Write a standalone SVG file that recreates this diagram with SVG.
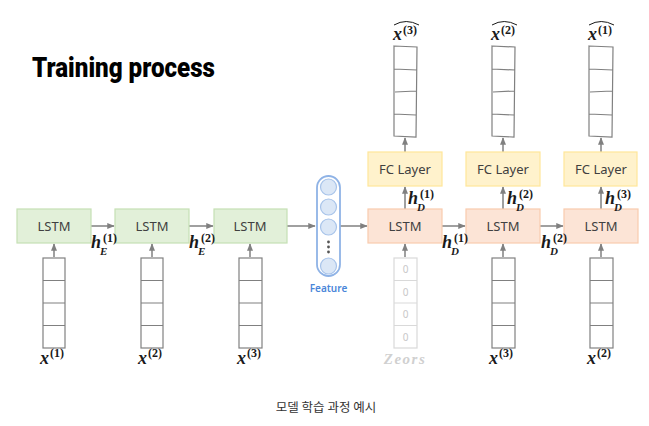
<svg xmlns="http://www.w3.org/2000/svg" width="649" height="426" viewBox="0 0 649 426">
<defs>
<marker id="ah" viewBox="0 0 10 10" refX="9" refY="5" markerWidth="5" markerHeight="5" orient="auto"><path d="M0,1 L10,5 L0,9 z" fill="#808080"/></marker>
<style>
.enc{fill:#e2f0d9;stroke:#c5e0b4;stroke-width:1.2}
.dec{fill:#fce4d6;stroke:#f8cbad;stroke-width:1.2}
.fc{fill:#fff2cc;stroke:#ffe699;stroke-width:1.2}
.lbl{font-family:"Noto Sans","Liberation Sans",sans-serif;font-size:13px;fill:#404040;text-anchor:middle}
.vec{fill:#fff;stroke:#808080;stroke-width:1.2}
.zv{fill:#fff;stroke:#d9d9d9;stroke-width:1.2}
.z{font-family:"Noto Sans",sans-serif;font-size:10px;fill:#c8c8c8;text-anchor:middle}
.m{font-family:"Liberation Serif",serif;font-style:italic;font-weight:bold;font-size:18px;fill:#1a1a1a}
.sub{font-family:"Liberation Serif",serif;font-style:italic;font-weight:bold;font-size:11px;fill:#1a1a1a}
.sup{font-family:"Liberation Serif",serif;font-weight:bold;font-size:12px;fill:#1a1a1a}
.ar{stroke:#808080;stroke-width:1.5;fill:none;marker-end:url(#ah)}
.circ{fill:#dbe7f6;stroke:#a8c4ea;stroke-width:1.2}
.hat{fill:none;stroke:#1a1a1a;stroke-width:1}
</style>
</defs>
<rect width="649" height="426" fill="#fff"/>
<text x="32" y="77" font-family="Roboto,'Liberation Sans',sans-serif" font-weight="900" font-size="27" fill="#000" textLength="183" lengthAdjust="spacingAndGlyphs">Training process</text>

<g id="connectors">
<path class="ar" d="M91,226 H114"/>
<path class="ar" d="M189,226 H213"/>
<path class="ar" d="M287,226 H315"/>
<path class="ar" d="M340,226 H367"/>
<path class="ar" d="M442,226 H465"/>
<path class="ar" d="M540,226 H563"/>
<path class="ar" d="M54,257 V244"/>
<path class="ar" d="M152,257 V244"/>
<path class="ar" d="M250,257 V244"/>
<path class="ar" d="M405,257 V244"/>
<path class="ar" d="M503,257 V244"/>
<path class="ar" d="M601,257 V244"/>
<path class="ar" d="M405,209 V187"/>
<path class="ar" d="M503,209 V187"/>
<path class="ar" d="M601,209 V187"/>
<path class="ar" d="M405,152 V138"/>
<path class="ar" d="M503,152 V138"/>
<path class="ar" d="M601,152 V138"/>
</g>

<g id="enc1"><rect class="enc" x="17" y="209" width="74" height="34"/><text class="lbl" x="54" y="231">LSTM</text></g>
<g id="enc2"><rect class="enc" x="115" y="209" width="74" height="34"/><text class="lbl" x="152" y="231">LSTM</text></g>
<g id="enc3"><rect class="enc" x="214" y="209" width="73" height="34"/><text class="lbl" x="250" y="231">LSTM</text></g>

<g id="dec1"><rect class="dec" x="368" y="209" width="74" height="34"/><text class="lbl" x="405" y="231">LSTM</text></g>
<g id="dec2"><rect class="dec" x="466" y="209" width="74" height="34"/><text class="lbl" x="503" y="231">LSTM</text></g>
<g id="dec3"><rect class="dec" x="564" y="209" width="74" height="34"/><text class="lbl" x="601" y="231">LSTM</text></g>

<g id="fc1"><rect class="fc" x="368" y="152" width="74" height="34"/><text class="lbl" x="405" y="174">FC Layer</text></g>
<g id="fc2"><rect class="fc" x="466" y="152" width="74" height="34"/><text class="lbl" x="503" y="174">FC Layer</text></g>
<g id="fc3"><rect class="fc" x="564" y="152" width="73" height="34"/><text class="lbl" x="601" y="174">FC Layer</text></g>

<g id="feature">
<rect x="317" y="176" width="23" height="100" rx="11.5" fill="#fff" stroke="#8fb3e6" stroke-width="1.8"/>
<circle class="circ" cx="328.5" cy="187" r="8"/>
<circle class="circ" cx="328.5" cy="207" r="8"/>
<circle class="circ" cx="328.5" cy="227" r="8"/>
<circle cx="328.5" cy="242" r="1.4" fill="#555"/><circle cx="328.5" cy="247" r="1.4" fill="#555"/><circle cx="328.5" cy="252" r="1.4" fill="#555"/>
<circle class="circ" cx="328.5" cy="266" r="8"/>
<text x="328.5" y="292" font-family="'Noto Sans','Liberation Sans',sans-serif" font-size="10" font-weight="600" fill="#4a86d9" text-anchor="middle">Feature</text>
</g>

<g id="in1"><rect class="vec" x="43" y="258" width="22" height="90"/><path d="M43,280.5 H65 M43,303 H65 M43,325.5 H65" stroke="#808080" stroke-width="1.2"/>
<text class="m" x="40" y="364">x</text><text class="sup" x="50" y="357">(1)</text></g>
<g id="in2"><rect class="vec" x="141" y="258" width="22" height="90"/><path d="M141,280.5 H163 M141,303 H163 M141,325.5 H163" stroke="#808080" stroke-width="1.2"/>
<text class="m" x="138" y="364">x</text><text class="sup" x="148" y="357">(2)</text></g>
<g id="in3"><rect class="vec" x="239" y="258" width="23" height="90"/><path d="M239,280.5 H262 M239,303 H262 M239,325.5 H262" stroke="#808080" stroke-width="1.2"/>
<text class="m" x="237" y="364">x</text><text class="sup" x="247" y="357">(3)</text></g>

<g id="zeros"><rect class="zv" x="394" y="258" width="23" height="90"/><path d="M394,280.5 H417 M394,303 H417 M394,325.5 H417" stroke="#d9d9d9" stroke-width="1.2"/>
<text class="z" x="405.5" y="273">0</text><text class="z" x="405.5" y="296">0</text><text class="z" x="405.5" y="318">0</text><text class="z" x="405.5" y="341">0</text>
<text x="405" y="364" font-family="'Liberation Serif',serif" font-style="italic" font-weight="bold" font-size="15" fill="#d0d0d0" text-anchor="middle" letter-spacing="1.5">Zeors</text></g>

<g id="din2"><rect class="vec" x="492" y="258" width="23" height="90"/><path d="M492,280.5 H515 M492,303 H515 M492,325.5 H515" stroke="#808080" stroke-width="1.2"/>
<text class="m" x="489" y="364">x</text><text class="sup" x="499" y="357">(3)</text></g>
<g id="din3"><rect class="vec" x="590" y="258" width="23" height="90"/><path d="M590,280.5 H613 M590,303 H613 M590,325.5 H613" stroke="#808080" stroke-width="1.2"/>
<text class="m" x="587" y="364">x</text><text class="sup" x="597" y="357">(2)</text></g>

<g id="out1"><path d="M394,46 L417,47 L416,137 L394,136 Z M394,69 L417,70 M395,92 L416,91 M394,114 L416,115" fill="#fff" stroke="#808080" stroke-width="1.2"/>
<text class="m" x="393" y="40">x</text><text class="sup" x="403" y="34">(3)</text><path class="hat" d="M394,25 Q406,18 419,25"/></g>
<g id="out2"><path d="M492,46 L515,47 L514,137 L492,136 Z M492,69 L515,70 M493,92 L514,91 M492,114 L514,115" fill="#fff" stroke="#808080" stroke-width="1.2"/>
<text class="m" x="491" y="40">x</text><text class="sup" x="501" y="34">(2)</text><path class="hat" d="M492,25 Q504,18 517,25"/></g>
<g id="out3"><path d="M589,46 L613,47 L612,137 L589,136 Z M589,69 L613,70 M590,92 L612,91 M589,114 L612,115" fill="#fff" stroke="#808080" stroke-width="1.2"/>
<text class="m" x="588" y="40">x</text><text class="sup" x="598" y="34">(1)</text><path class="hat" d="M589,25 Q601,18 614,25"/></g>

<g id="hlabels">
<text class="m" x="91" y="248">h</text><text class="sub" x="100" y="255">E</text><text class="sup" x="103" y="242">(1)</text>
<text class="m" x="189" y="248">h</text><text class="sub" x="198" y="255">E</text><text class="sup" x="201" y="242">(2)</text>
<text class="m" x="442" y="248">h</text><text class="sub" x="451" y="255">D</text><text class="sup" x="454" y="242">(1)</text>
<text class="m" x="541" y="248">h</text><text class="sub" x="550" y="255">D</text><text class="sup" x="553" y="242">(2)</text>
<text class="m" x="408" y="204">h</text><text class="sub" x="417" y="211">D</text><text class="sup" x="420" y="198">(1)</text>
<text class="m" x="507" y="204">h</text><text class="sub" x="516" y="211">D</text><text class="sup" x="519" y="198">(2)</text>
<text class="m" x="605" y="204">h</text><text class="sub" x="614" y="211">D</text><text class="sup" x="617" y="198">(3)</text>
</g>

<text x="326" y="412" font-family="'Noto Sans CJK KR',sans-serif" font-size="12.5" fill="#333" text-anchor="middle">모델 학습 과정 예시</text>
</svg>
